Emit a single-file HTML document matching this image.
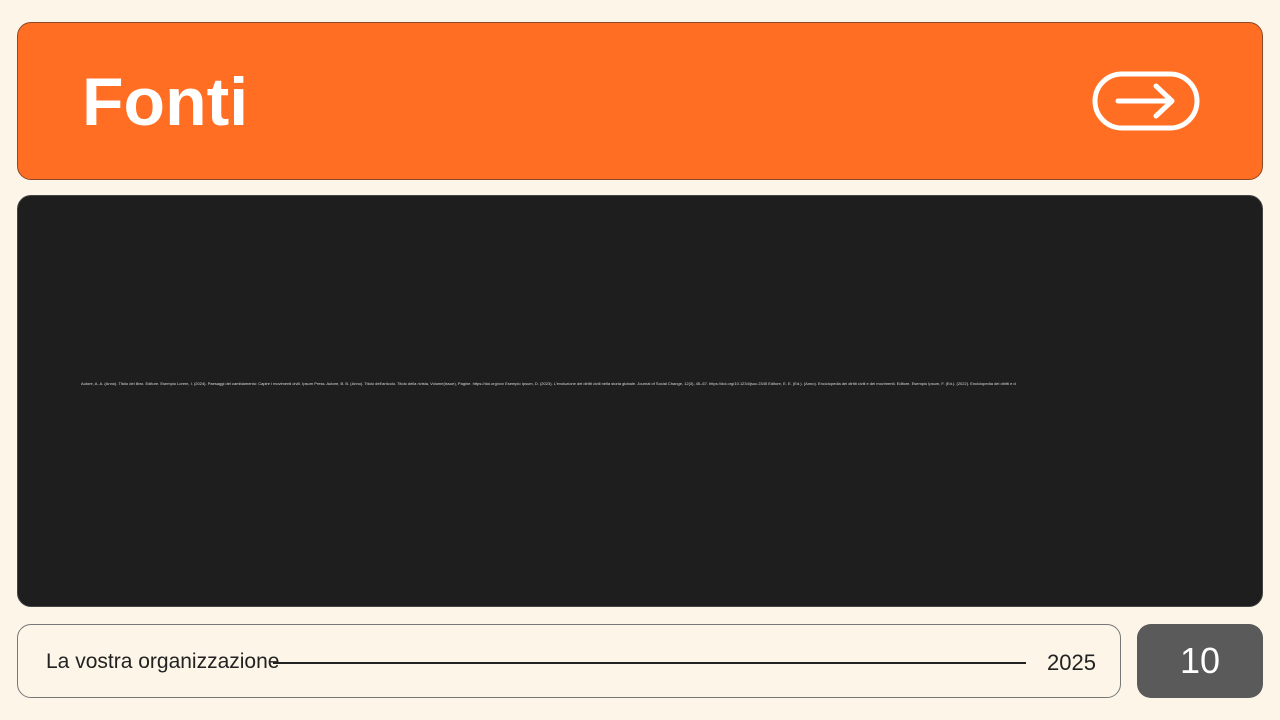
<!DOCTYPE html>
<html><head><meta charset="utf-8"><style>
html,body{margin:0;padding:0;}
body{width:1280px;height:720px;background:#fdf6e8;position:relative;overflow:hidden;font-family:"Liberation Sans",sans-serif;}
.hdr{position:absolute;left:17px;top:22px;width:1246px;height:158px;background:#ff6e23;border:1px solid #8a4a2a;border-radius:14px;box-sizing:border-box;}
.hdr h1{position:absolute;left:64px;top:40px;margin:0;font-size:68px;font-weight:bold;color:#fff;letter-spacing:0;}
.main{position:absolute;left:17px;top:195px;width:1246px;height:412px;background:#1e1e1e;border:1px solid #444;border-radius:14px;box-sizing:border-box;}
.refs{position:absolute;left:63px;top:185px;width:935px;font-size:4px;color:#ddd;white-space:nowrap;overflow:hidden;}
.foot{position:absolute;left:17px;top:624px;width:1104px;height:74px;border:1px solid #777;border-radius:14px;box-sizing:border-box;}
.foot .l{position:absolute;left:28px;top:25px;font-size:21px;color:#222;}
.foot .r{position:absolute;left:1029px;top:25px;font-size:22px;color:#222;}
.line{position:absolute;left:255px;top:37px;width:753px;height:2px;background:#222;}
.num{position:absolute;left:1137px;top:624px;width:126px;height:74px;background:#5a5a5a;border-radius:14px;color:#fff;font-size:36px;text-align:center;line-height:74px;}
</style></head><body>
<div class="hdr"><h1>Fonti</h1>
<svg style="position:absolute;left:1074px;top:48px" width="108" height="60" viewBox="0 0 108 60">
<rect x="3" y="3" width="102" height="54" rx="27" fill="none" stroke="#fff" stroke-width="5"/>
<path d="M26 30 H80 M64 15 L80 30 L64 45" fill="none" stroke="#fff" stroke-width="5" stroke-linecap="round" stroke-linejoin="round"/>
</svg></div>
<div class="main"><div class="refs">Autore, A. A. (Anno). Titolo del libro. Editore. Esempio Lorem, I. (2024). Paesaggi del cambiamento: Capire i movimenti civili. Ipsum Press. Autore, B. B. (Anno). Titolo dell'articolo. Titolo della rivista, Volume(Issue), Pagine. https://doi.org/xxx Esempio Ipsum, D. (2023). L'evoluzione dei diritti civili nella storia globale. Journal of Social Change, 12(3), 45–67. https://doi.org/10.1234/jsoc.2345 Editore, E. E. (Ed.). (Anno). Enciclopedia dei diritti civili e dei movimenti. Editore. Esempio Ipsum, F. (Ed.). (2022). Enciclopedia dei diritti e dei movimenti civili. Editori del cambiamento.</div></div>
<div class="foot"><span class="l">La vostra organizzazione</span><div class="line"></div><span class="r">2025</span></div>
<div class="num">10</div>
</body></html>
